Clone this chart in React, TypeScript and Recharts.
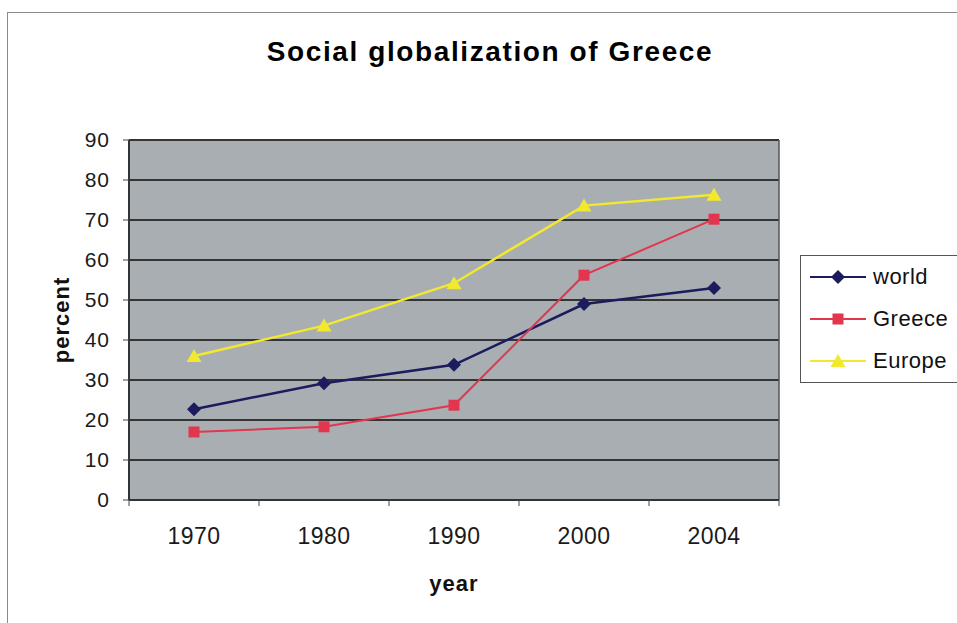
import React from 'react';
import { LineChart, Line, XAxis, YAxis, CartesianGrid, Legend, ReferenceLine } from 'recharts';

// Social globalization index (percent), by year
const years = ['1970', '1980', '1990', '2000', '2004'];
const world = [22.7, 29.2, 33.8, 49.0, 53.0];
const greece = [17.0, 18.3, 23.7, 56.2, 70.2];
const europe = [36.0, 43.6, 54.2, 73.6, 76.3];
const seriesNames = ['world', 'Greece', 'Europe'];
const yTicks = [0, 10, 20, 30, 40, 50, 60, 70, 80, 90];

const data = years.map((year, i) => ({
  year,
  world: world[i],
  Greece: greece[i],
  Europe: europe[i],
}));

const COLORS: Record<string, string> = {
  world: '#1b1b5e',
  Greece: '#e2364e',
  Europe: '#f2e82c',
};

const FONT = '"Liberation Sans", Arial, sans-serif';

type ShapeProps = { cx: number; cy: number; fill: string };

const Diamond = ({ cx, cy, fill }: ShapeProps) => (
  <polygon points={`${cx},${cy - 7} ${cx + 7},${cy} ${cx},${cy + 7} ${cx - 7},${cy}`} fill={fill} />
);
const Square = ({ cx, cy, fill }: ShapeProps) => (
  <rect x={cx - 5.5} y={cy - 5.5} width={11} height={11} fill={fill} />
);
const Triangle = ({ cx, cy, fill }: ShapeProps) => (
  <polygon points={`${cx},${cy - 7} ${cx + 7.5},${cy + 6} ${cx - 7.5},${cy + 6}`} fill={fill} />
);

const MARKERS: Record<string, (p: ShapeProps) => React.ReactElement> = {
  world: Diamond,
  Greece: Square,
  Europe: Triangle,
};

const makeDot = (name: string) => (props: any) => {
  const Shape = MARKERS[name];
  if (props.cx == null || props.cy == null) return <g key={`${name}-${props.index}`} />;
  return (
    <g key={`${name}-${props.index}`}>
      <Shape cx={props.cx} cy={props.cy} fill={COLORS[name]} />
    </g>
  );
};

// Category label plus tick marks on the band boundaries
const YearTick = (props: any) => {
  const { x, y, payload, index, visibleTicksCount } = props;
  const half = payload?.offset ?? 0;
  const axisY = y - 28;
  const isLast = index === visibleTicksCount - 1;
  return (
    <g>
      <line x1={x - half} y1={axisY} x2={x - half} y2={axisY + 6} stroke="#444" strokeWidth={1} />
      {isLast && <line x1={x + half} y1={axisY} x2={x + half} y2={axisY + 6} stroke="#444" strokeWidth={1} />}
      <text
        x={x}
        y={y}
        dy="0.71em"
        textAnchor="middle"
        fill="#1a1a1a"
        fontSize={23}
        fontFamily={FONT}
        letterSpacing={0.5}
      >
        {payload.value}
      </text>
    </g>
  );
};

const LegendBox = (props: any) => {
  const items = [...(props.payload || [])].sort(
    (a: any, b: any) => seriesNames.indexOf(String(a.value)) - seriesNames.indexOf(String(b.value))
  );
  return (
    <div
      style={{
        border: '1px solid #555',
        background: '#fff',
        padding: '0 0 0 8px',
        width: 170,
        boxSizing: 'border-box',
      }}
    >
      {items.map((item: any) => {
        const name = String(item.value);
        const Shape = MARKERS[name];
        return (
          <div key={name} style={{ display: 'flex', alignItems: 'center', height: 42 }}>
            <svg width={58} height={20} style={{ display: 'block' }}>
              <line x1={1} y1={10} x2={57} y2={10} stroke={item.color} strokeWidth={2} />
              <Shape cx={29} cy={10} fill={item.color} />
            </svg>
            <span style={{ fontFamily: FONT, fontSize: 22, color: '#111', marginLeft: 6, letterSpacing: 0.5 }}>
              {name}
            </span>
          </div>
        );
      })}
    </div>
  );
};

export default function App() {
  return (
    <div
      style={{
        position: 'absolute',
        left: 0,
        top: 0,
        width: 957,
        height: 623,
        background: '#fff',
        overflow: 'hidden',
        fontFamily: FONT,
      }}
    >
      <div
        style={{
          position: 'absolute',
          left: 7,
          top: 12,
          width: 960,
          height: 620,
          borderTop: '1.5px solid #8a8a8a',
          borderLeft: '1.5px solid #8a8a8a',
        }}
      />
      <div
        style={{
          position: 'absolute',
          left: 0,
          top: 38,
          width: 980,
          textAlign: 'center',
          fontSize: 28,
          lineHeight: '28px',
          fontWeight: 'bold',
          letterSpacing: 1.6,
          color: '#000',
        }}
      >
        Social globalization of Greece
      </div>
      <LineChart
        width={957}
        height={623}
        data={data}
        margin={{ top: 140, right: 178, bottom: 0, left: 0 }}
        style={{ position: 'absolute', left: 0, top: 0 }}
      >
        <CartesianGrid
          vertical={false}
          fill="#a9aeb3"
          fillOpacity={1}
          stroke="#343434"
          strokeWidth={2}
        />
        <XAxis
          dataKey="year"
          scale="band"
          height={123}
          axisLine={{ stroke: '#333', strokeWidth: 2 }}
          tickLine={false}
          tickSize={6}
          tickMargin={22}
          tick={<YearTick />}
          interval={0}
          label={{
            value: 'year',
            position: 'insideTop',
            offset: 75,
            fill: '#111',
            fontSize: 22,
            fontWeight: 'bold',
            fontFamily: FONT,
            letterSpacing: 1,
          }}
        />
        <YAxis
          width={129}
          domain={[0, 90]}
          ticks={yTicks}
          interval={0}
          axisLine={{ stroke: '#333', strokeWidth: 2 }}
          tickLine={{ stroke: '#444', strokeWidth: 1 }}
          tickSize={6}
          tickMargin={13}
          tick={{ fill: '#1a1a1a', fontSize: 21, fontFamily: FONT, letterSpacing: 1 }}
          label={{
            value: 'percent',
            angle: -90,
            position: 'center',
            dx: -3,
            fill: '#111',
            fontSize: 22,
            fontWeight: 'bold',
            fontFamily: FONT,
            letterSpacing: 1,
          }}
        />
        <ReferenceLine x={years[years.length - 1]} position="end" stroke="#555" strokeWidth={1.5} />
        <Line
          type="linear"
          dataKey="world"
          stroke={COLORS.world}
          strokeWidth={2.5}
          dot={makeDot('world')}
          activeDot={false}
          isAnimationActive={false}
        />
        <Line
          type="linear"
          dataKey="Greece"
          stroke={COLORS.Greece}
          strokeWidth={2}
          dot={makeDot('Greece')}
          activeDot={false}
          isAnimationActive={false}
        />
        <Line
          type="linear"
          dataKey="Europe"
          stroke={COLORS.Europe}
          strokeWidth={2.5}
          dot={makeDot('Europe')}
          activeDot={false}
          isAnimationActive={false}
        />
        <Legend
          layout="vertical"
          align="center"
          verticalAlign="middle"
          content={<LegendBox />}
          wrapperStyle={{ left: 800, top: 255, width: 170 }}
        />
      </LineChart>
    </div>
  );
}
